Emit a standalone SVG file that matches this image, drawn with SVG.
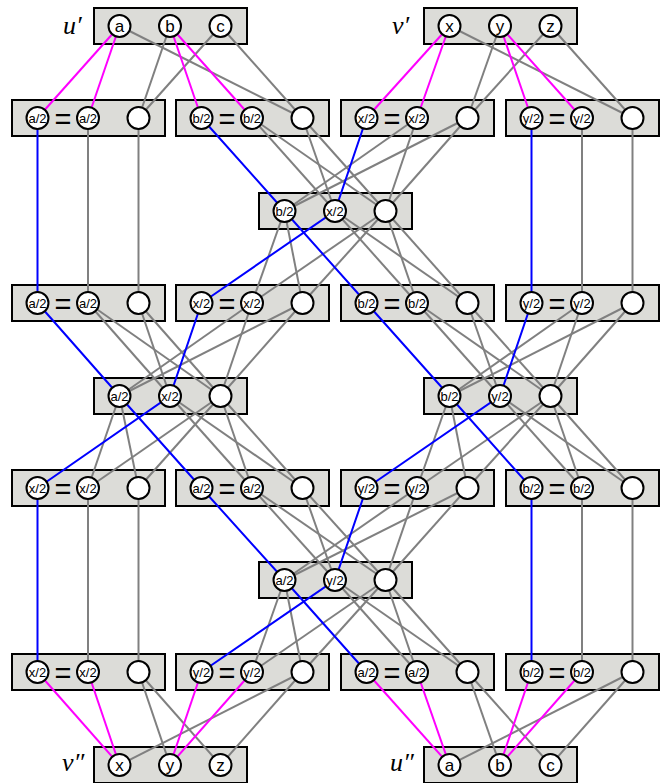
<svg xmlns="http://www.w3.org/2000/svg" width="670" height="783" viewBox="0 0 670 783">
<style>
.box{fill:#dcdcd8;stroke:#000;stroke-width:2}
.n{fill:#fff;stroke:#000;stroke-width:2}
.e{fill:none;stroke:#808080;stroke-width:2}
.m{stroke:#ff00ff}
.b{stroke:#0000ff}
.t{font-family:"Liberation Sans",Arial,sans-serif;font-size:13px;text-anchor:middle;fill:#000}
.big{font-size:17px}
.eq{font-family:"Liberation Sans",Arial,sans-serif;font-size:29px;text-anchor:middle;fill:#000}
.lab{font-family:"Liberation Serif","Times New Roman",serif;font-style:italic;font-size:26px;fill:#000}
</style>
<rect width="670" height="783" fill="#fff"/>
<g id="boxes">
<g id="box-u1"><rect class="box" x="94" y="8" width="153" height="36"/></g>
<g id="box-v1"><rect class="box" x="424" y="8" width="153" height="36"/></g>
<g id="box-A1"><rect class="box" x="12" y="100" width="153" height="36"/><text class="eq" x="63" y="129.4">=</text></g>
<g id="box-B1"><rect class="box" x="176" y="100" width="153" height="36"/><text class="eq" x="227" y="129.4">=</text></g>
<g id="box-X1"><rect class="box" x="341" y="100" width="153" height="36"/><text class="eq" x="392" y="129.4">=</text></g>
<g id="box-Y1"><rect class="box" x="506" y="100" width="153" height="36"/><text class="eq" x="557" y="129.4">=</text></g>
<g id="box-M1"><rect class="box" x="259" y="193" width="153" height="36"/></g>
<g id="box-A2"><rect class="box" x="12" y="285" width="153" height="36"/><text class="eq" x="63" y="314.4">=</text></g>
<g id="box-X2"><rect class="box" x="176" y="285" width="153" height="36"/><text class="eq" x="227" y="314.4">=</text></g>
<g id="box-B2"><rect class="box" x="341" y="285" width="153" height="36"/><text class="eq" x="392" y="314.4">=</text></g>
<g id="box-Y2"><rect class="box" x="506" y="285" width="153" height="36"/><text class="eq" x="557" y="314.4">=</text></g>
<g id="box-L"><rect class="box" x="94" y="378" width="153" height="36"/></g>
<g id="box-R"><rect class="box" x="424" y="378" width="153" height="36"/></g>
<g id="box-X3"><rect class="box" x="12" y="470" width="153" height="36"/><text class="eq" x="63" y="499.4">=</text></g>
<g id="box-A3"><rect class="box" x="176" y="470" width="153" height="36"/><text class="eq" x="227" y="499.4">=</text></g>
<g id="box-Y3"><rect class="box" x="341" y="470" width="153" height="36"/><text class="eq" x="392" y="499.4">=</text></g>
<g id="box-B3"><rect class="box" x="506" y="470" width="153" height="36"/><text class="eq" x="557" y="499.4">=</text></g>
<g id="box-M3"><rect class="box" x="259" y="562" width="153" height="36"/></g>
<g id="box-X4"><rect class="box" x="12" y="654" width="153" height="36"/><text class="eq" x="63" y="683.4">=</text></g>
<g id="box-Y4"><rect class="box" x="176" y="654" width="153" height="36"/><text class="eq" x="227" y="683.4">=</text></g>
<g id="box-A4"><rect class="box" x="341" y="654" width="153" height="36"/><text class="eq" x="392" y="683.4">=</text></g>
<g id="box-B4"><rect class="box" x="506" y="654" width="153" height="36"/><text class="eq" x="557" y="683.4">=</text></g>
<g id="box-v2"><rect class="box" x="94" y="747" width="153" height="36"/></g>
<g id="box-u2"><rect class="box" x="424" y="747" width="153" height="36"/></g>
</g>
<g id="labels">
<text class="lab" x="63" y="34">u′</text>
<text class="lab" x="392" y="34">v′</text>
<text class="lab" x="62" y="771">v″</text>
<text class="lab" x="390" y="771">u″</text>
</g>
<g id="connectors">
<!-- gray: top -->
<path class="e" d="M170,26L138.5,118"/>
<path class="e" d="M220.5,26L138.5,118"/>
<path class="e" d="M119.5,26L302.5,118"/>
<path class="e" d="M220.5,26L302.5,118"/>
<path class="e" d="M500,26L467.5,118"/>
<path class="e" d="M550.5,26L467.5,118"/>
<path class="e" d="M449.5,26L632.5,118"/>
<path class="e" d="M550.5,26L632.5,118"/>
<!-- gray verticals -->
<path class="e" d="M88,118V303"/>
<path class="e" d="M138.5,118V303"/>
<path class="e" d="M582,118V303"/>
<path class="e" d="M632.5,118V303"/>
<path class="e" d="M88,488V672"/>
<path class="e" d="M138.5,488V672"/>
<path class="e" d="M582,488V672"/>
<path class="e" d="M632.5,488V672"/>
<!-- gadget 1 -->
<path class="e" d="M252,118L335,211"/>
<path class="e" d="M252,118L385.5,211"/>
<path class="e" d="M302.5,118L335,211"/>
<path class="e" d="M302.5,118L385.5,211"/>
<path class="e" d="M417,118L284.5,211"/>
<path class="e" d="M417,118L385.5,211"/>
<path class="e" d="M467.5,118L284.5,211"/>
<path class="e" d="M467.5,118L385.5,211"/>
<path class="e" d="M284.5,211L252,303"/>
<path class="e" d="M284.5,211L302.5,303"/>
<path class="e" d="M335,211L417,303"/>
<path class="e" d="M335,211L467.5,303"/>
<path class="e" d="M385.5,211L252,303"/>
<path class="e" d="M385.5,211L302.5,303"/>
<path class="e" d="M385.5,211L417,303"/>
<path class="e" d="M385.5,211L467.5,303"/>
<!-- gadget 2 -->
<path class="e" d="M88,303L170,396"/>
<path class="e" d="M88,303L220.5,396"/>
<path class="e" d="M138.5,303L170,396"/>
<path class="e" d="M138.5,303L220.5,396"/>
<path class="e" d="M252,303L119.5,396"/>
<path class="e" d="M252,303L220.5,396"/>
<path class="e" d="M302.5,303L119.5,396"/>
<path class="e" d="M302.5,303L220.5,396"/>
<path class="e" d="M119.5,396L88,488"/>
<path class="e" d="M119.5,396L138.5,488"/>
<path class="e" d="M170,396L252,488"/>
<path class="e" d="M170,396L302.5,488"/>
<path class="e" d="M220.5,396L88,488"/>
<path class="e" d="M220.5,396L138.5,488"/>
<path class="e" d="M220.5,396L252,488"/>
<path class="e" d="M220.5,396L302.5,488"/>
<!-- gadget 3 -->
<path class="e" d="M417,303L500,396"/>
<path class="e" d="M417,303L550.5,396"/>
<path class="e" d="M467.5,303L500,396"/>
<path class="e" d="M467.5,303L550.5,396"/>
<path class="e" d="M582,303L449.5,396"/>
<path class="e" d="M582,303L550.5,396"/>
<path class="e" d="M632.5,303L449.5,396"/>
<path class="e" d="M632.5,303L550.5,396"/>
<path class="e" d="M449.5,396L417,488"/>
<path class="e" d="M449.5,396L467.5,488"/>
<path class="e" d="M500,396L582,488"/>
<path class="e" d="M500,396L632.5,488"/>
<path class="e" d="M550.5,396L417,488"/>
<path class="e" d="M550.5,396L467.5,488"/>
<path class="e" d="M550.5,396L582,488"/>
<path class="e" d="M550.5,396L632.5,488"/>
<!-- gadget 4 -->
<path class="e" d="M252,488L335,580"/>
<path class="e" d="M252,488L385.5,580"/>
<path class="e" d="M302.5,488L335,580"/>
<path class="e" d="M302.5,488L385.5,580"/>
<path class="e" d="M417,488L284.5,580"/>
<path class="e" d="M417,488L385.5,580"/>
<path class="e" d="M467.5,488L284.5,580"/>
<path class="e" d="M467.5,488L385.5,580"/>
<path class="e" d="M284.5,580L252,672"/>
<path class="e" d="M284.5,580L302.5,672"/>
<path class="e" d="M335,580L417,672"/>
<path class="e" d="M335,580L467.5,672"/>
<path class="e" d="M385.5,580L252,672"/>
<path class="e" d="M385.5,580L302.5,672"/>
<path class="e" d="M385.5,580L417,672"/>
<path class="e" d="M385.5,580L467.5,672"/>
<!-- gray: bottom -->
<path class="e" d="M138.5,672L170,765"/>
<path class="e" d="M138.5,672L220.5,765"/>
<path class="e" d="M302.5,672L119.5,765"/>
<path class="e" d="M302.5,672L220.5,765"/>
<path class="e" d="M467.5,672L500,765"/>
<path class="e" d="M467.5,672L550.5,765"/>
<path class="e" d="M632.5,672L449.5,765"/>
<path class="e" d="M632.5,672L550.5,765"/>
<!-- magenta -->
<path class="e m" d="M119.5,26L37.5,118"/>
<path class="e m" d="M119.5,26L88,118"/>
<path class="e m" d="M170,26L201.5,118"/>
<path class="e m" d="M170,26L252,118"/>
<path class="e m" d="M449.5,26L366.5,118"/>
<path class="e m" d="M449.5,26L417,118"/>
<path class="e m" d="M500,26L531.5,118"/>
<path class="e m" d="M500,26L582,118"/>
<path class="e m" d="M37.5,672L119.5,765"/>
<path class="e m" d="M88,672L119.5,765"/>
<path class="e m" d="M201.5,672L170,765"/>
<path class="e m" d="M252,672L170,765"/>
<path class="e m" d="M366.5,672L449.5,765"/>
<path class="e m" d="M417,672L449.5,765"/>
<path class="e m" d="M531.5,672L500,765"/>
<path class="e m" d="M582,672L500,765"/>
<!-- blue -->
<path class="e b" d="M37.5,118V303"/>
<path class="e b" d="M531.5,118V303"/>
<path class="e b" d="M37.5,488V672"/>
<path class="e b" d="M531.5,488V672"/>
<path class="e b" d="M201.5,118L284.5,211L366.5,303"/>
<path class="e b" d="M366.5,118L335,211L201.5,303"/>
<path class="e b" d="M37.5,303L119.5,396L201.5,488"/>
<path class="e b" d="M201.5,303L170,396L37.5,488"/>
<path class="e b" d="M366.5,303L449.5,396L531.5,488"/>
<path class="e b" d="M531.5,303L500,396L366.5,488"/>
<path class="e b" d="M201.5,488L284.5,580L366.5,672"/>
<path class="e b" d="M366.5,488L335,580L201.5,672"/>
</g>
<g id="nodes">
<g id="u1-a"><circle class="n" cx="119.5" cy="26" r="11"/><text class="t big" x="119.5" y="32">a</text></g>
<g id="u1-b"><circle class="n" cx="170" cy="26" r="11"/><text class="t big" x="170" y="32">b</text></g>
<g id="u1-c"><circle class="n" cx="220.5" cy="26" r="11"/><text class="t big" x="220.5" y="32">c</text></g>
<g id="v1-x"><circle class="n" cx="449.5" cy="26" r="11"/><text class="t big" x="449.5" y="32">x</text></g>
<g id="v1-y"><circle class="n" cx="500" cy="26" r="11"/><text class="t big" x="500" y="32">y</text></g>
<g id="v1-z"><circle class="n" cx="550.5" cy="26" r="11"/><text class="t big" x="550.5" y="32">z</text></g>

<g id="A1-1"><circle class="n" cx="37.5" cy="118" r="11"/><text class="t" x="37.5" y="122.6">a/2</text></g>
<g id="A1-2"><circle class="n" cx="88" cy="118" r="11"/><text class="t" x="88" y="122.6">a/2</text></g>
<g id="A1-3"><circle class="n" cx="138.5" cy="118" r="11"/></g>
<g id="B1-1"><circle class="n" cx="201.5" cy="118" r="11"/><text class="t" x="201.5" y="122.6">b/2</text></g>
<g id="B1-2"><circle class="n" cx="252" cy="118" r="11"/><text class="t" x="252" y="122.6">b/2</text></g>
<g id="B1-3"><circle class="n" cx="302.5" cy="118" r="11"/></g>
<g id="X1-1"><circle class="n" cx="366.5" cy="118" r="11"/><text class="t" x="366.5" y="122.6">x/2</text></g>
<g id="X1-2"><circle class="n" cx="417" cy="118" r="11"/><text class="t" x="417" y="122.6">x/2</text></g>
<g id="X1-3"><circle class="n" cx="467.5" cy="118" r="11"/></g>
<g id="Y1-1"><circle class="n" cx="531.5" cy="118" r="11"/><text class="t" x="531.5" y="122.6">y/2</text></g>
<g id="Y1-2"><circle class="n" cx="582" cy="118" r="11"/><text class="t" x="582" y="122.6">y/2</text></g>
<g id="Y1-3"><circle class="n" cx="632.5" cy="118" r="11"/></g>

<g id="M1-1"><circle class="n" cx="284.5" cy="211" r="11"/><text class="t" x="284.5" y="215.6">b/2</text></g>
<g id="M1-2"><circle class="n" cx="335" cy="211" r="11"/><text class="t" x="335" y="215.6">x/2</text></g>
<g id="M1-3"><circle class="n" cx="385.5" cy="211" r="11"/></g>

<g id="A2-1"><circle class="n" cx="37.5" cy="303" r="11"/><text class="t" x="37.5" y="307.6">a/2</text></g>
<g id="A2-2"><circle class="n" cx="88" cy="303" r="11"/><text class="t" x="88" y="307.6">a/2</text></g>
<g id="A2-3"><circle class="n" cx="138.5" cy="303" r="11"/></g>
<g id="X2-1"><circle class="n" cx="201.5" cy="303" r="11"/><text class="t" x="201.5" y="307.6">x/2</text></g>
<g id="X2-2"><circle class="n" cx="252" cy="303" r="11"/><text class="t" x="252" y="307.6">x/2</text></g>
<g id="X2-3"><circle class="n" cx="302.5" cy="303" r="11"/></g>
<g id="B2-1"><circle class="n" cx="366.5" cy="303" r="11"/><text class="t" x="366.5" y="307.6">b/2</text></g>
<g id="B2-2"><circle class="n" cx="417" cy="303" r="11"/><text class="t" x="417" y="307.6">b/2</text></g>
<g id="B2-3"><circle class="n" cx="467.5" cy="303" r="11"/></g>
<g id="Y2-1"><circle class="n" cx="531.5" cy="303" r="11"/><text class="t" x="531.5" y="307.6">y/2</text></g>
<g id="Y2-2"><circle class="n" cx="582" cy="303" r="11"/><text class="t" x="582" y="307.6">y/2</text></g>
<g id="Y2-3"><circle class="n" cx="632.5" cy="303" r="11"/></g>

<g id="L-1"><circle class="n" cx="119.5" cy="396" r="11"/><text class="t" x="119.5" y="400.6">a/2</text></g>
<g id="L-2"><circle class="n" cx="170" cy="396" r="11"/><text class="t" x="170" y="400.6">x/2</text></g>
<g id="L-3"><circle class="n" cx="220.5" cy="396" r="11"/></g>
<g id="R-1"><circle class="n" cx="449.5" cy="396" r="11"/><text class="t" x="449.5" y="400.6">b/2</text></g>
<g id="R-2"><circle class="n" cx="500" cy="396" r="11"/><text class="t" x="500" y="400.6">y/2</text></g>
<g id="R-3"><circle class="n" cx="550.5" cy="396" r="11"/></g>

<g id="X3-1"><circle class="n" cx="37.5" cy="488" r="11"/><text class="t" x="37.5" y="492.6">x/2</text></g>
<g id="X3-2"><circle class="n" cx="88" cy="488" r="11"/><text class="t" x="88" y="492.6">x/2</text></g>
<g id="X3-3"><circle class="n" cx="138.5" cy="488" r="11"/></g>
<g id="A3-1"><circle class="n" cx="201.5" cy="488" r="11"/><text class="t" x="201.5" y="492.6">a/2</text></g>
<g id="A3-2"><circle class="n" cx="252" cy="488" r="11"/><text class="t" x="252" y="492.6">a/2</text></g>
<g id="A3-3"><circle class="n" cx="302.5" cy="488" r="11"/></g>
<g id="Y3-1"><circle class="n" cx="366.5" cy="488" r="11"/><text class="t" x="366.5" y="492.6">y/2</text></g>
<g id="Y3-2"><circle class="n" cx="417" cy="488" r="11"/><text class="t" x="417" y="492.6">y/2</text></g>
<g id="Y3-3"><circle class="n" cx="467.5" cy="488" r="11"/></g>
<g id="B3-1"><circle class="n" cx="531.5" cy="488" r="11"/><text class="t" x="531.5" y="492.6">b/2</text></g>
<g id="B3-2"><circle class="n" cx="582" cy="488" r="11"/><text class="t" x="582" y="492.6">b/2</text></g>
<g id="B3-3"><circle class="n" cx="632.5" cy="488" r="11"/></g>

<g id="M3-1"><circle class="n" cx="284.5" cy="580" r="11"/><text class="t" x="284.5" y="584.6">a/2</text></g>
<g id="M3-2"><circle class="n" cx="335" cy="580" r="11"/><text class="t" x="335" y="584.6">y/2</text></g>
<g id="M3-3"><circle class="n" cx="385.5" cy="580" r="11"/></g>

<g id="X4-1"><circle class="n" cx="37.5" cy="672" r="11"/><text class="t" x="37.5" y="676.6">x/2</text></g>
<g id="X4-2"><circle class="n" cx="88" cy="672" r="11"/><text class="t" x="88" y="676.6">x/2</text></g>
<g id="X4-3"><circle class="n" cx="138.5" cy="672" r="11"/></g>
<g id="Y4-1"><circle class="n" cx="201.5" cy="672" r="11"/><text class="t" x="201.5" y="676.6">y/2</text></g>
<g id="Y4-2"><circle class="n" cx="252" cy="672" r="11"/><text class="t" x="252" y="676.6">y/2</text></g>
<g id="Y4-3"><circle class="n" cx="302.5" cy="672" r="11"/></g>
<g id="A4-1"><circle class="n" cx="366.5" cy="672" r="11"/><text class="t" x="366.5" y="676.6">a/2</text></g>
<g id="A4-2"><circle class="n" cx="417" cy="672" r="11"/><text class="t" x="417" y="676.6">a/2</text></g>
<g id="A4-3"><circle class="n" cx="467.5" cy="672" r="11"/></g>
<g id="B4-1"><circle class="n" cx="531.5" cy="672" r="11"/><text class="t" x="531.5" y="676.6">b/2</text></g>
<g id="B4-2"><circle class="n" cx="582" cy="672" r="11"/><text class="t" x="582" y="676.6">b/2</text></g>
<g id="B4-3"><circle class="n" cx="632.5" cy="672" r="11"/></g>

<g id="v2-x"><circle class="n" cx="119.5" cy="765" r="11"/><text class="t big" x="119.5" y="771">x</text></g>
<g id="v2-y"><circle class="n" cx="170" cy="765" r="11"/><text class="t big" x="170" y="771">y</text></g>
<g id="v2-z"><circle class="n" cx="220.5" cy="765" r="11"/><text class="t big" x="220.5" y="771">z</text></g>
<g id="u2-a"><circle class="n" cx="449.5" cy="765" r="11"/><text class="t big" x="449.5" y="771">a</text></g>
<g id="u2-b"><circle class="n" cx="500" cy="765" r="11"/><text class="t big" x="500" y="771">b</text></g>
<g id="u2-c"><circle class="n" cx="550.5" cy="765" r="11"/><text class="t big" x="550.5" y="771">c</text></g>
</g>
</svg>
